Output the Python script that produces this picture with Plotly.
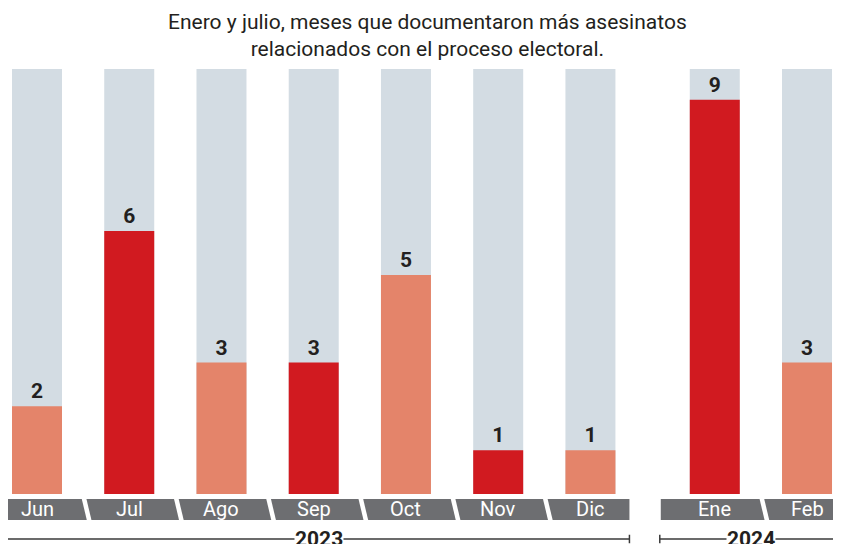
import plotly.graph_objects as go

# ---- data ----
months = ["Jun", "Jul", "Ago", "Sep", "Oct", "Nov", "Dic", "Ene", "Feb"]
years = [2023, 2023, 2023, 2023, 2023, 2023, 2023, 2024, 2024]
values = [2, 6, 3, 3, 5, 1, 1, 9, 3]
scale_max = 9.7  # background column height
title_text = ("Enero y julio, meses que documentaron más asesinatos<br>"
              "relacionados con el proceso electoral.")

# ---- styles ----
RED = "#d11a20"
SALMON = "#e4846a"
BG = "#d3dce3"
GRAY = "#6d6e71"
DARK = "#231f20"
YEAR_GAP = 0.348

OFF = 8                    # page body margin
W, H = 841 - OFF, 544 - OFF
UNIT = 92.24               # px per category step
X0 = -(37 - OFF) / UNIT    # x range start (Jun centre at page px 37)
PLOT_TOP, PLOT_BOTTOM = 69 - OFF, 494 - OFF

first_year = years[0]
xs = [i + (YEAR_GAP if y != first_year else 0) for i, y in enumerate(years)]
colors = [SALMON if i % 2 == 0 else RED for i in range(len(values))]


def px2x(px):  # page px -> data x
    return X0 + (px - OFF) / UNIT


def py2paper(py):  # page px -> paper y
    return (PLOT_BOTTOM - (py - OFF)) / (PLOT_BOTTOM - PLOT_TOP)


fig = go.Figure()
fig.add_trace(go.Bar(x=xs, y=[scale_max] * len(xs), width=0.542,
                     marker=dict(color=BG, line=dict(width=0)),
                     hoverinfo="skip", showlegend=False))
fig.add_trace(go.Bar(x=xs, y=values, width=0.542,
                     marker=dict(color=colors, line=dict(width=0)),
                     text=[str(v) for v in values], textposition="outside",
                     textfont=dict(family="Roboto", size=21, color=DARK, weight="bold"),
                     cliponaxis=False, showlegend=False))

shapes = []
annotations = []
box_top, box_bot = py2paper(499), py2paper(520)

groups = {}
for x, y in zip(xs, years):
    groups.setdefault(y, []).append(x)

year_line_y = py2paper(539)
LINE_C = "#3a3a3a"
for yr, gx in groups.items():
    if yr == first_year:
        left = gx[0] - 29 / UNIT
        right = gx[-1] + 39 / UNIT
    else:
        left = gx[0] - 54 / UNIT
        right = px2x(841 + 2)
    shapes.append(dict(type="rect", xref="x", yref="paper", x0=left, x1=right,
                       y0=box_bot, y1=box_top, fillcolor=GRAY, line=dict(width=0),
                       layer="above"))
    for a, b in zip(gx[:-1], gx[1:]):
        mid = (a + b) / 2
        shapes.append(dict(type="line", xref="x", yref="paper",
                           x0=mid + 0.5 / UNIT, x1=mid + 6.5 / UNIT,
                           y0=box_top + 0.005, y1=box_bot - 0.005,
                           line=dict(color="white", width=4.5), layer="above"))
    lx0 = left - 1 / UNIT
    lx1 = min(right, px2x(841))
    shapes.append(dict(type="line", xref="x", yref="paper", x0=lx0, x1=lx1,
                       y0=year_line_y, y1=year_line_y,
                       line=dict(color=LINE_C, width=1.3), layer="above"))
    for ex in ([lx0, lx1] if yr == first_year else [lx0]):
        shapes.append(dict(type="line", xref="x", yref="paper", x0=ex, x1=ex,
                           y0=year_line_y - 0.01, y1=year_line_y + 0.01,
                           line=dict(color=LINE_C, width=1.5), layer="above"))
    center = (left + lx1) / 2
    annotations.append(dict(x=center, y=year_line_y, xref="x", yref="paper",
                            text=f"<b>{yr}</b>", showarrow=False, bgcolor="white",
                            borderpad=0, xanchor="center", yanchor="middle",
                            font=dict(family="Roboto", size=21, color=DARK)))

for x, m in zip(xs, months):
    annotations.append(dict(x=x, y=(box_top + box_bot) / 2, xref="x", yref="paper",
                            text=m, showarrow=False, xanchor="center", yanchor="middle",
                            font=dict(family="Roboto", size=20, color="white")))

annotations.append(dict(x=px2x(427), y=py2paper(8), xref="x", yref="paper",
                        text=title_text, showarrow=False,
                        xanchor="center", yanchor="top", align="center",
                        font=dict(family="Roboto", size=21, color=DARK)))

fig.update_layout(
    width=W, height=H,
    margin=dict(l=0, r=0, t=PLOT_TOP, b=H - PLOT_BOTTOM, pad=0),
    barmode="overlay",
    plot_bgcolor="white", paper_bgcolor="white",
    xaxis=dict(range=[X0, X0 + W / UNIT], visible=False, fixedrange=True),
    yaxis=dict(range=[0, scale_max], visible=False, fixedrange=True),
    shapes=shapes, annotations=annotations,
)
fig.write_html("out.html")
